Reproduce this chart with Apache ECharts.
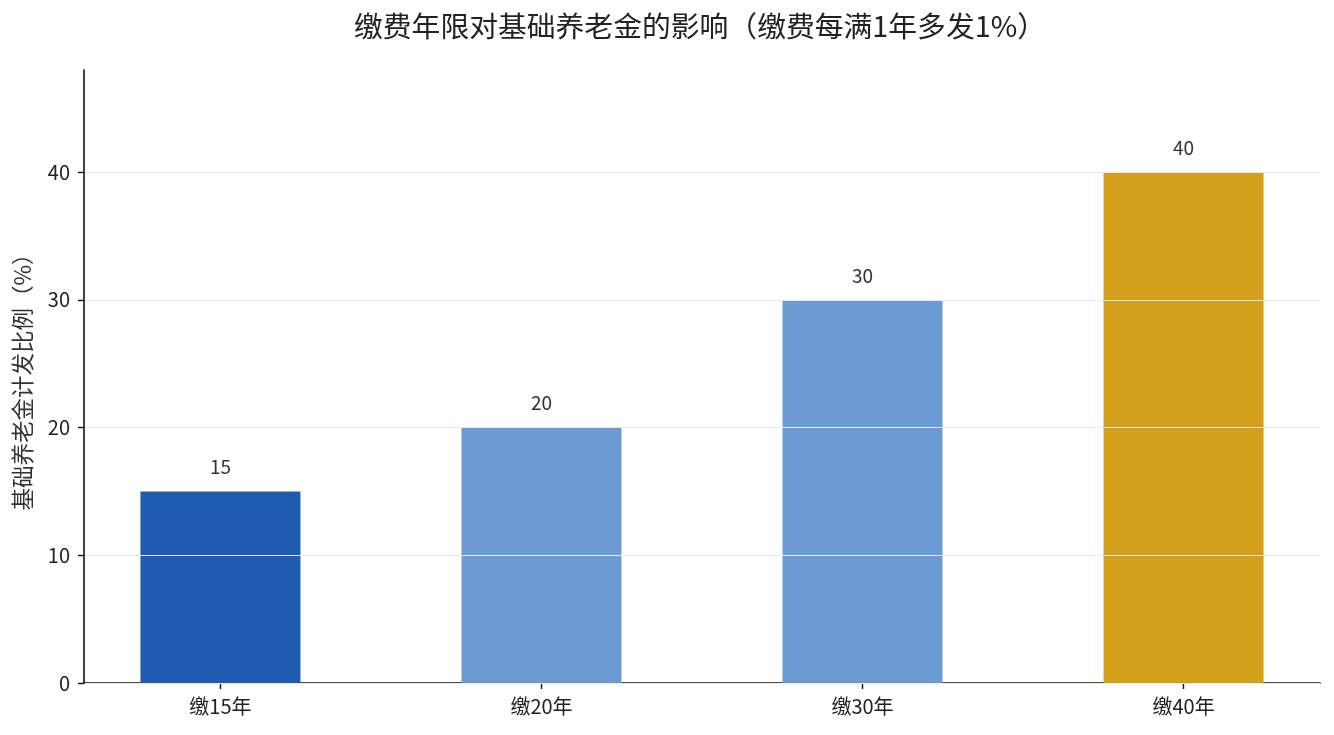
<!DOCTYPE html>
<html>
<head>
<meta charset="utf-8">
<script src="https://cdn.jsdelivr.net/npm/echarts@6/dist/echarts.min.js"></script>
<style>
html,body{margin:0;padding:0;background:#fff;}
#chart{width:1334px;height:735px;}
</style>
</head>
<body>
<div id="chart"></div>
<script>
var categories = ['缴15年', '缴20年', '缴30年', '缴40年'];
var values = [15, 20, 30, 40];
var yTicks = [0, 10, 20, 30, 40];
var barColors = ['#1f5bb0', '#6c9bd3', '#6c9bd3', '#d4a01b'];

var FONT = '"Noto Sans CJK SC", "Noto Sans", sans-serif';
var chart = echarts.init(document.getElementById('chart'), null, {renderer: 'canvas'});
var xIdx = categories.map(function (c, i) { return i; });

chart.setOption({
  backgroundColor: '#ffffff',
  animation: false,
  title: {
    text: '缴费年限对基础养老金的影响（缴费每满1年多发1%）',
    left: 695,
    textAlign: 'center',
    top: 7,
    textStyle: {fontFamily: FONT, fontSize: 28.8, fontWeight: 'normal', color: '#222222'}
  },
  grid: {left: 84, right: 14, top: 70, bottom: 52, containLabel: false, outerBoundsMode: 'none'},
  xAxis: {
    type: 'value',
    min: -0.425,
    max: 3.425,
    axisLine: {show: true, onZero: false, lineStyle: {color: '#111111', width: 1.6}},
    axisTick: {show: true, customValues: xIdx, length: 6, lineStyle: {color: '#111111', width: 1.4}},
    axisLabel: {
      show: true, customValues: xIdx, margin: 13,
      fontFamily: FONT, fontSize: 20, color: '#222222',
      formatter: function (v) { return categories[Math.round(v)]; }
    },
    splitLine: {show: false}
  },
  yAxis: {
    type: 'value',
    min: 0,
    max: 48,
    z: 10,
    name: '基础养老金计发比例（%）',
    nameLocation: 'middle',
    nameRotate: 90,
    nameGap: 50,
    nameTextStyle: {fontFamily: FONT, fontSize: 22.5, color: '#333333'},
    axisLine: {show: true, onZero: false, lineStyle: {color: '#111111', width: 1.6}},
    axisTick: {show: true, customValues: yTicks, length: 6, lineStyle: {color: '#111111', width: 1.4}},
    axisLabel: {show: true, customValues: yTicks, margin: 14, fontFamily: FONT, fontSize: 20, color: '#222222'},
    splitLine: {show: true, lineStyle: {color: '#e8e8e8', width: 1}}
  },
  series: [{
    type: 'bar',
    barWidth: 160,
    data: values.map(function (v, i) {
      return {value: [i, v], itemStyle: {color: barColors[i]}};
    }),
    label: {
      show: true, position: 'top', distance: 15,
      fontFamily: FONT, fontSize: 19, color: '#333333',
      formatter: function (p) { return p.value[1]; }
    }
  }]
});
</script>
</body>
</html>
